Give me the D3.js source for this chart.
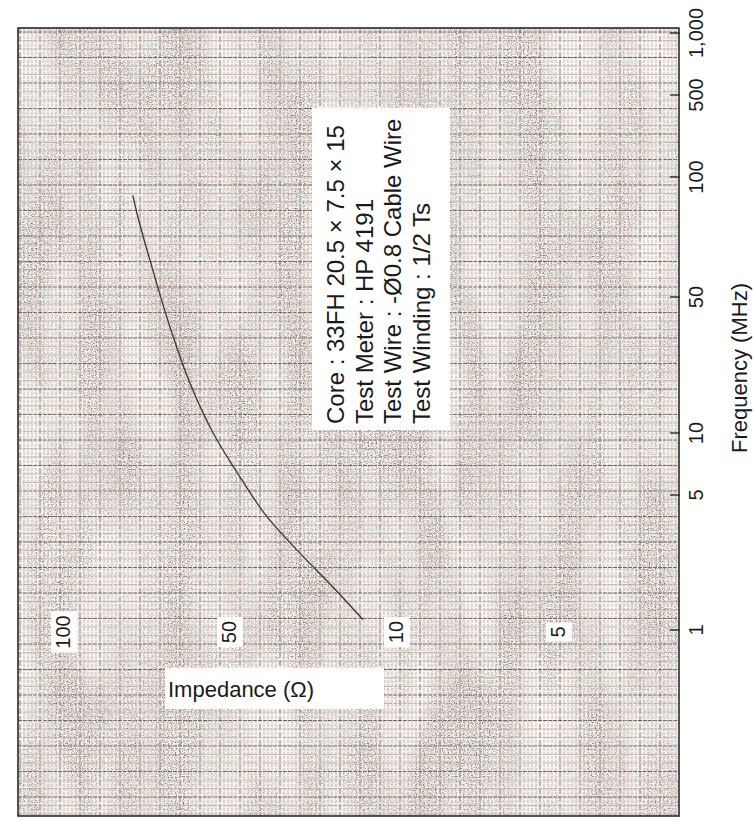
<!DOCTYPE html>
<html>
<head>
<meta charset="utf-8">
<script src="https://cdn.jsdelivr.net/npm/d3@7"></script>
<style>
  body { margin: 0; background: #fff; }
  text { font-family: Arial, "Liberation Sans", sans-serif; fill: #1a1a1a; }
</style>
</head>
<body>
<div id="chart"></div>
<script>
// frequency axis (MHz), drawn vertically on the right
const freqTicks = [1, 5, 10, 50, 100, 500, 1000];
const freqLabels = ["1", "5", "10", "50", "100", "500", "1,000"];

// impedance axis (ohm), drawn horizontally, grows to the left
const impTicks = [100, 50, 10, 5];
const impLabels = ["100", "50", "10", "5"];

// measured curve
const freqMHz = [1.13, 1.67, 2.5, 3.85, 6.1, 10, 18, 32.7, 59.5, 81, 90];
const impedanceOhm = [13.6, 18.2, 25, 34.3, 44.5, 53.2, 58.6, 63.2, 68.7, 73.1, 74.4];

const noteLines = [
  "Core : 33FH  20.5 \u00d7 7.5 \u00d7 15",
  "Test Meter : HP 4191",
  "Test Wire : -\u00d80.8 Cable Wire",
  "Test Winding : 1/2 Ts"
];

const width = 753, height = 820;
const pLeft = 18, pTop = 28, pRight = 679, pBottom = 816;

const svg = d3.select("#chart").append("svg")
    .attr("width", width).attr("height", height);

// the printed scales are uneven, so the scales are piecewise log
const y = d3.scaleLog()
    .domain([0.11, 1, 5, 10, 50, 100, 500, 1000])
    .range([pBottom, 630, 495, 433, 297, 177, 95, 33]);
const x = d3.scaleLog()
    .domain([120, 100, 50, 10, 5, 3])
    .range([pLeft, 62, 228, 395, 557, pRight]);

const defs = svg.append("defs");
defs.append("clipPath").attr("id", "plot")
  .append("rect").attr("x", pLeft).attr("y", pTop)
  .attr("width", pRight - pLeft).attr("height", pBottom - pTop);

// scanned paper speckle
function grain(id, seed, dotA, dotB, maskFreq, maskA, maskB, rgb) {
  const f = defs.append("filter").attr("id", id)
      .attr("x", 0).attr("y", 0).attr("width", 1).attr("height", 1);
  f.append("feTurbulence").attr("type", "fractalNoise")
      .attr("baseFrequency", "0.85").attr("numOctaves", 1).attr("seed", seed).attr("result", "n");
  f.append("feColorMatrix").attr("in", "n").attr("type", "matrix")
      .attr("values", `0 0 0 0 ${rgb[0]}  0 0 0 0 ${rgb[1]}  0 0 0 0 ${rgb[2]}  ${dotA} 0 0 0 ${dotB}`)
      .attr("result", "dots");
  f.append("feTurbulence").attr("type", "fractalNoise")
      .attr("baseFrequency", maskFreq).attr("numOctaves", 2).attr("seed", seed + 5).attr("result", "big");
  f.append("feColorMatrix").attr("in", "big").attr("type", "matrix")
      .attr("values", `0 0 0 0 0  0 0 0 0 0  0 0 0 0 0  ${maskA} 0 0 0 ${maskB}`)
      .attr("result", "mask");
  f.append("feComposite").attr("in", "dots").attr("in2", "mask").attr("operator", "in");
}
grain("grainLight", 4, 3.2, -1.4, "0.03 0.008", 2.4, -0.65, [0.62, 0.56, 0.53]);
grain("grainDark", 11, 3.5, -1.75, "0.025 0.006", 3.0, -1.0, [0.2, 0.15, 0.14]);

const plot = svg.append("g").attr("clip-path", "url(#plot)");

plot.append("rect")
    .attr("x", pLeft).attr("y", pTop)
    .attr("width", pRight - pLeft).attr("height", pBottom - pTop)
    .attr("fill", "#f9f7f5");

// graph paper lines
const vx = d3.range(pLeft + 2, pRight, 4);
plot.append("g").selectAll("line").data(vx).join("line")
    .attr("x1", d => d).attr("x2", d => d)
    .attr("y1", pTop).attr("y2", pBottom)
    .attr("stroke", (d, i) => i % 5 === 0 ? "#9c8c84" : "#d8cfc9")
    .attr("stroke-width", (d, i) => i % 5 === 0 ? 1.2 : 1.5)
    .attr("stroke-dasharray", (d, i) => i % 5 === 0 ? "6,2" : "3,1");

const hy = d3.range(pTop + 4, pBottom, 8.5);
plot.append("g").selectAll("line").data(hy).join("line")
    .attr("x1", pLeft).attr("x2", pRight)
    .attr("y1", d => d).attr("y2", d => d)
    .attr("stroke", (d, i) => i % 3 === 0 ? "#6f5f58" : "#bcaea6")
    .attr("stroke-width", (d, i) => i % 3 === 0 ? 1.1 : 0.9)
    .attr("stroke-dasharray", "4,1");

plot.append("rect")
    .attr("x", pLeft).attr("y", pTop)
    .attr("width", pRight - pLeft).attr("height", pBottom - pTop)
    .attr("filter", "url(#grainLight)");
plot.append("rect")
    .attr("x", pLeft).attr("y", pTop)
    .attr("width", pRight - pLeft).attr("height", pBottom - pTop)
    .attr("filter", "url(#grainDark)");

// curve
const pts = freqMHz.map((fq, i) => [x(impedanceOhm[i]), y(fq)]);
plot.append("path")
    .datum(pts)
    .attr("d", d3.line().curve(d3.curveMonotoneY))
    .attr("fill", "none")
    .attr("stroke", "#3d3431")
    .attr("stroke-width", 1.3);

// frame
svg.append("rect")
    .attr("x", pLeft).attr("y", pTop)
    .attr("width", pRight - pLeft).attr("height", pBottom - pTop)
    .attr("fill", "none").attr("stroke", "#2a2a2a").attr("stroke-width", 1.6);

// frequency ticks and labels on the right
svg.append("g").selectAll("line").data(freqTicks).join("line")
    .attr("x1", pRight - 9).attr("x2", pRight + 1)
    .attr("y1", d => y(d)).attr("y2", d => y(d))
    .attr("stroke", "#2a2a2a").attr("stroke-width", 1.4);

svg.append("g").selectAll("text").data(freqTicks).join("text")
    .attr("transform", d => `translate(703,${y(d)}) rotate(-90)`)
    .attr("text-anchor", "middle")
    .style("font-size", "20px")
    .text((d, i) => freqLabels[i]);

svg.append("text")
    .attr("transform", "translate(747,368) rotate(-90)")
    .attr("text-anchor", "middle")
    .style("font-size", "22px")
    .text("Frequency (MHz)");

// impedance labels in white boxes
const impG = svg.append("g").selectAll("g").data(impTicks).join("g")
    .attr("transform", d => `translate(${x(d) + 8},632) rotate(-90)`);
impG.each(function(d, i) {
  const g = d3.select(this);
  const t = g.append("text")
      .attr("text-anchor", "middle")
      .style("font-size", "20px")
      .text(impLabels[i]);
  const b = t.node().getBBox();
  g.insert("rect", "text")
      .attr("x", b.x - 4).attr("y", b.y - 1)
      .attr("width", b.width + 8).attr("height", b.height + 4)
      .attr("fill", "#fff");
});

// axis title box
svg.append("rect")
    .attr("x", 165).attr("y", 668).attr("width", 219).attr("height", 41)
    .attr("fill", "#fff");
svg.append("text")
    .attr("x", 168).attr("y", 697)
    .style("font-size", "22px")
    .text("Impedance (\u03a9)");

// test conditions note
svg.append("rect")
    .attr("x", 312).attr("y", 108).attr("width", 138).attr("height", 322)
    .attr("fill", "#fff");
svg.append("g").selectAll("text").data(noteLines).join("text")
    .attr("transform", (d, i) => `translate(${344 + i * 28.5},424) rotate(-90)`)
    .style("font-size", "24px")
    .text(d => d);
</script>
</body>
</html>
